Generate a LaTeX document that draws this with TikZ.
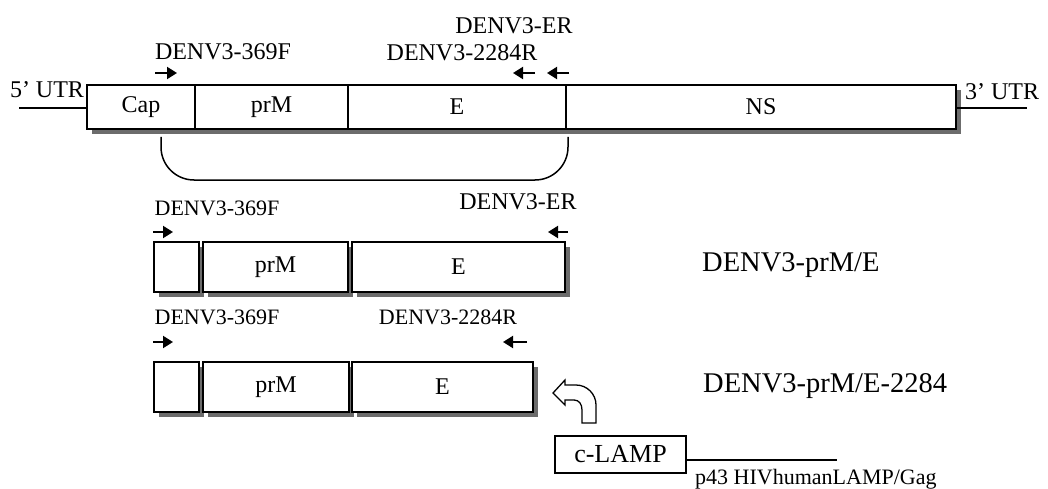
\documentclass[tikz,border=0pt]{standalone}
\usepackage{fontspec}
\setmainfont{Liberation Serif}
\usetikzlibrary{arrows.meta,positioning,shadows}

\tikzset{
  seg/.style={draw, line width=1.5pt, fill=white, inner sep=0pt, outer sep=0pt,
    font=\fontsize{24}{28}\selectfont,
    drop shadow={shadow xshift=5pt, shadow yshift=-5pt, fill=gray!85!black, opacity=1}},
  lbl/.style={inner sep=0pt, font=\fontsize{24}{28}\selectfont},
  sublbl/.style={inner sep=0pt, font=\fontsize{22}{26}\selectfont},
  bigtxt/.style={inner sep=0pt, anchor=west, font=\fontsize{28.5}{32}\selectfont},
  primer/.style={line width=2pt, -{Triangle[length=10pt,width=12pt]}},
  thin line/.style={line width=1.5pt}
}

\begin{document}
\begin{tikzpicture}[x=1pt, y=-1pt]
  \useasboundingbox (0,0) rectangle (1048,489);

  % genome
  \node[seg, anchor=north west, minimum width=108pt, minimum height=44pt] (cap) at (87,85) {Cap};
  \node[seg, right=0pt of cap, minimum width=153pt, minimum height=44pt] (prm) {prM};
  \node[seg, right=0pt of prm, minimum width=218pt, minimum height=44pt] (env) {E};
  \node[seg, right=0pt of env, minimum width=390pt, minimum height=44pt] (ns) {NS};
  \coordinate (utr5) at (19,108);
  \coordinate (utr3) at (1027,108);
  \draw[thin line] (utr5) -- (utr5 -| cap.west);
  \draw[thin line] (utr3 -| ns.east) -- (utr3);
  \node[lbl] (utr5lbl) at (47,90) {5’ UTR};
  \node[lbl] (utr3lbl) at (1002,92) {3’ UTR};

  \node[lbl] (f1) at (223,52) {DENV3-369F};
  \node[lbl] (r1) at (462,53) {DENV3-2284R};
  \node[lbl] (er1) at (514,26) {DENV3-ER};
  \draw[primer] (155,73) -- (177,73);
  \draw[primer] (535,73) -- (513,73);
  \draw[primer] (569,73) -- (547,73);

  % amplified region
  \coordinate (brL) at (161,137);
  \coordinate (brR) at (568,137);
  \draw[thin line, rounded corners=33pt] (brL) -- (brL |- 0,180) -- (brR |- 0,180) -- (brR);

  % DENV3-prM/E
  \node[seg, anchor=north west, minimum width=45pt, minimum height=50pt] (capA) at (154,242) {};
  \node[seg, right=4pt of capA, minimum width=145pt, minimum height=50pt] (prmA) {prM};
  \node[seg, right=4pt of prmA, minimum width=213pt, minimum height=50pt] (envA) {E};
  \node[sublbl] (f2) at (217,208) {DENV3-369F};
  \node[lbl] (er2) at (518,202) {DENV3-ER};
  \draw[primer] (153,232) -- (173,232);
  \draw[primer] (568,232) -- (548,232);
  \node[bigtxt] (conA) at (702,265) {DENV3-prM/E};

  % DENV3-prM/E-2284
  \node[seg, anchor=north west, minimum width=45pt, minimum height=50pt] (capB) at (154,362) {};
  \node[seg, right=4pt of capB, minimum width=146pt, minimum height=50pt] (prmB) {prM};
  \node[seg, right=3pt of prmB, minimum width=181pt, minimum height=50pt] (envB) {E};
  \node[sublbl] (f3) at (217,317) {DENV3-369F};
  \node[sublbl] (r3) at (448,317) {DENV3-2284R};
  \draw[primer] (153,342) -- (173,342);
  \draw[primer] (527,342) -- (503,342);
  \node[bigtxt] (conB) at (703,386) {DENV3-prM/E-2284};

  % vector
  \draw[line width=1.3pt, line join=miter, fill=white]
    (553,393) -- (565,380) -- (565,385) -- (576,385)
    .. controls (587,385) and (596,394) .. (596,405)
    -- (596,423) -- (582,423) -- (582,410)
    .. controls (582,404) and (579,400) .. (574,400)
    -- (565,400) -- (565,405) -- cycle;
  \node[draw, line width=1.5pt, anchor=north west, minimum width=131pt, minimum height=37pt,
        inner sep=0pt, outer sep=0pt, font=\fontsize{26}{30}\selectfont] (lamp) at (555,436) {c-LAMP};
  \coordinate (vecend) at (837,460);
  \draw[thin line] (lamp.east |- vecend) -- (vecend);
  \node[inner sep=0pt, anchor=base west, font=\fontsize{22}{26}\selectfont] (vec) at (695,484) {p43 HIVhumanLAMP/Gag};
\end{tikzpicture}
\end{document}
